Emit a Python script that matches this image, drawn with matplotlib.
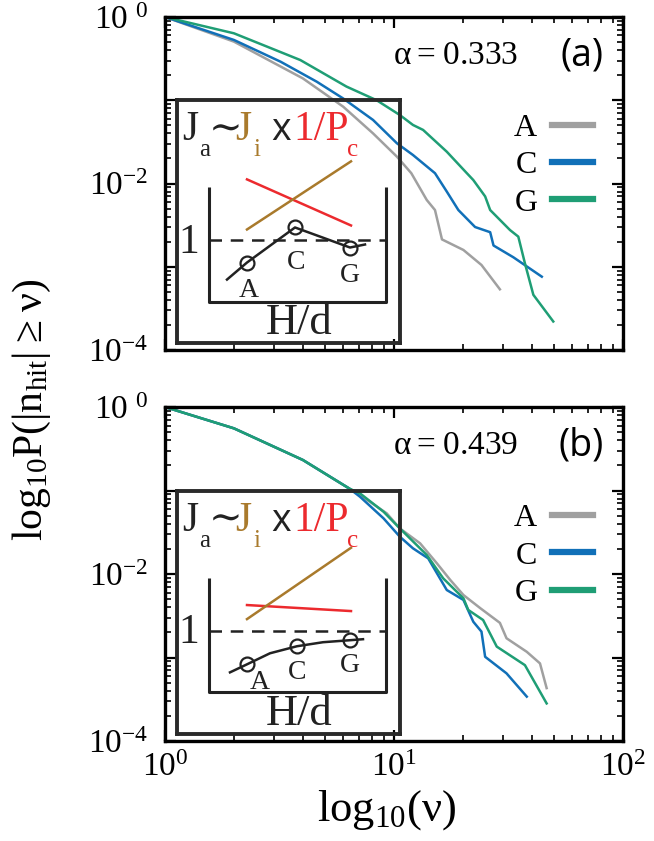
import numpy as np
import matplotlib
matplotlib.use('Agg')
import matplotlib.pyplot as plt
from matplotlib.ticker import FixedLocator, FixedFormatter, LogLocator, NullFormatter

plt.rcParams['font.family'] = ['Liberation Serif', 'DejaVu Serif']
plt.rcParams['mathtext.fontset'] = 'custom'
plt.rcParams['mathtext.rm'] = 'Liberation Serif'

# ---- data ----
# panel (a), alpha = 0.333
nu_a_A = [1, 2, 4, 6, 8.1, 10.3, 11.9, 13.9, 15.1, 16.2, 20.1, 24.1, 29.0]
P_a_A = [1, 0.506, 0.183, 0.0837, 0.040, 0.021, 0.0133, 0.00634, 0.0048, 0.00213, 0.00159, 0.00105, 0.000536]
nu_a_C = [1, 2, 3.2, 4.6, 6.0, 8.1, 10.3, 12.1, 15.1, 17.0, 19.1, 22.6, 26.3, 27.2, 33.2, 44.2]
P_a_C = [1, 0.53, 0.29, 0.167, 0.105, 0.058, 0.0304, 0.022, 0.0133, 0.008, 0.0048, 0.003, 0.0026, 0.0018, 0.0013, 0.00076]
nu_a_G = [1, 2, 3.9, 6.2, 8.4, 10.6, 12.1, 13.4, 17.0, 20.8, 22.2, 25.0, 26.3, 32.1, 34.9, 37.3, 40.6, 49.6]
P_a_G = [1, 0.637, 0.304, 0.146, 0.1, 0.0665, 0.0505, 0.044, 0.0241, 0.0133, 0.011, 0.007, 0.0048, 0.00276, 0.0023, 0.0011, 0.00046, 0.00022]

# panel (b), alpha = 0.439
nu_b_A = [1, 2, 4, 6.4, 7.1, 9.3, 10.6, 13.0, 15.4, 17.6, 20.1, 23.8, 29.0, 31.0, 38.0, 43.4, 46.4]
P_b_A = [1, 0.555, 0.232, 0.105, 0.0883, 0.0532, 0.0352, 0.0233, 0.0134, 0.0085, 0.0056, 0.0039, 0.0026, 0.0017, 0.00117, 0.00085, 0.00043]
nu_b_C = [1, 2, 4, 6.4, 7.1, 9.0, 10.6, 12.1, 14.1, 15.4, 17.0, 20.1, 22.2, 24.1, 25.0, 31.0, 38.0]
P_b_C = [1, 0.555, 0.232, 0.105, 0.0843, 0.0464, 0.028, 0.0203, 0.0154, 0.0102, 0.00643, 0.00489, 0.00268, 0.00204, 0.00102, 0.000646, 0.00034]
nu_b_G = [1, 2, 4, 6.4, 7.1, 9.0, 10.6, 13.9, 16.4, 20.1, 21.1, 24.5, 28.1, 37.3, 46.4]
P_b_G = [1, 0.555, 0.232, 0.105, 0.0925, 0.0557, 0.0352, 0.0169, 0.00887, 0.00512, 0.00371, 0.00281, 0.00135, 0.00081, 0.000282]

series_names = ['A', 'C', 'G']
series_colors = ['#a0a0a0', '#1170b8', '#1f9e75']
alphas = ['0.333', '0.439']
panel_tags = ['(a)', '(b)']

# inset schematic (pixel units inside the inset box, y downward)
ins_red_a = ([70, 174], [79, 125])
ins_brown_a = ([70, 174], [129, 61])
ins_black_a = ([50, 70, 118, 173, 188], [179, 162, 127, 147, 144])
ins_red_b = ([70, 174], [114, 120])
ins_brown_b = ([70, 174], [128, 57])
ins_black_b = ([53, 70, 93, 120, 146, 173, 186], [181, 173, 162, 155, 151, 149, 148])
ins_circle_idx_a = [1, 2, 3]
ins_circle_idx_b = [1, 3, 5]
ins_lab_pos_a = [(72, 190), (119, 162), (173, 175)]
ins_lab_pos_b = [(83, 191), (120, 181), (173, 174)]

W, H = 654, 841
fig = plt.figure(figsize=(W / 100, H / 100), dpi=100)
ax_a = fig.add_axes([165 / W, 1 - 350 / H, 458 / W, 333 / H])
ax_b = fig.add_axes([165 / W, 1 - 741 / H, 458 / W, 334 / H])

data = [
    [(nu_a_A, P_a_A), (nu_a_C, P_a_C), (nu_a_G, P_a_G)],
    [(nu_b_A, P_b_A), (nu_b_C, P_b_C), (nu_b_G, P_b_G)],
]
insets = [
    (ins_red_a, ins_brown_a, ins_black_a, ins_circle_idx_a, ins_lab_pos_a),
    (ins_red_b, ins_brown_b, ins_black_b, ins_circle_idx_b, ins_lab_pos_b),
]

brown = '#a97a2c'
red = '#ec2a2e'
dark = '#222222'
serif = ['Liberation Serif', 'DejaVu Serif']


def draw_inset(ax, red_l, brown_l, black_l, cidx, lpos):
    ins = ax.inset_axes([12 / 458, 0.022, 223 / 458, 0.728])
    ins.set_xlim(0, 223)
    ins.set_ylim(242, 0)
    ins.patch.set_alpha(0)
    ins.set_xticks([])
    ins.set_yticks([])
    for s in ins.spines.values():
        s.set_linewidth(2.8)
        s.set_color('#2a2a2a')
    # inner small frame
    ins.plot([32, 32, 209, 209], [87, 201, 201, 87], color=dark, lw=2.2, solid_capstyle='butt')
    ins.plot([32, 209], [140, 140], color=dark, lw=1.8, dashes=(5, 3.5))
    ins.text(12, 142, '1', fontsize=30, ha='center', va='center', color=dark, family=serif)
    ins.plot(*red_l, color=red, lw=1.8)
    ins.plot(*brown_l, color=brown, lw=1.8)
    bx, by = black_l
    ins.plot(bx, by, color=dark, lw=1.8)
    ins.plot([bx[i] for i in cidx], [by[i] for i in cidx], 'o', ms=10,
             mfc='none', mec=dark, mew=1.6)
    for name, (u, v) in zip(series_names, lpos):
        ins.text(u, v, name, fontsize=20, ha='center', va='center', color=dark, family=serif)
    ins.text(122, 222, 'H/d', fontsize=32, ha='center', va='center', color=dark, family=serif)
    # formula J_a ~ J_i x 1/P_c
    ins.text(5, 40, 'J', fontsize=30, color=dark, va='baseline', family=serif)
    ins.text(22, 56, 'a', fontsize=18, color=dark, va='baseline', family=serif)
    ins.text(32, 40, '\u223c', fontsize=29, color=dark, va='baseline', family=serif)
    ins.text(58, 40, 'J', fontsize=30, color=brown, va='baseline', family=serif)
    ins.text(76, 56, 'i', fontsize=18, color=brown, va='baseline', family=serif)
    ins.text(94, 40, 'x', fontsize=27, color=dark, va='baseline', family='Open Sans')
    ins.text(116, 40, '1/P', fontsize=30, color=red, va='baseline', family=serif)
    ins.text(170, 56, 'c', fontsize=18, color=red, va='baseline', family=serif)


for k, ax in enumerate([ax_a, ax_b]):
    for (nu, P), name, c in zip(data[k], series_names, series_colors):
        ax.plot(nu, P, color=c, lw=1.8, label=name)
    ax.set_xscale('log')
    ax.set_yscale('log')
    ax.set_xlim(1, 100)
    ax.set_ylim(1e-4, 1)
    for s in ax.spines.values():
        s.set_linewidth(2.4)
    ax.yaxis.set_major_locator(FixedLocator([1, 1e-1, 1e-2, 1e-3, 1e-4]))
    ax.yaxis.set_major_formatter(FixedFormatter([r'$\mathregular{10^{\ 0}}$', '',
                                                 r'$\mathregular{10^{-2}}$', '',
                                                 r'$\mathregular{10^{-4}}$']))
    ax.yaxis.set_minor_locator(LogLocator(base=10, subs=np.arange(2, 10)))
    ax.yaxis.set_minor_formatter(NullFormatter())
    ax.xaxis.set_major_locator(FixedLocator([1, 10, 100]))
    ax.xaxis.set_major_formatter(FixedFormatter([r'$\mathregular{10^{0}}$',
                                                 r'$\mathregular{10^{1}}$',
                                                 r'$\mathregular{10^{2}}$']))
    ax.xaxis.set_minor_locator(LogLocator(base=10, subs=np.arange(2, 10)))
    ax.xaxis.set_minor_formatter(NullFormatter())
    ax.tick_params(which='both', direction='in', top=True, right=True, labelsize=24)
    ax.tick_params(which='major', length=8, width=1.6)
    ax.tick_params(which='minor', length=4, width=1.2)
    ax.tick_params(axis='y', pad=12)
    ax.tick_params(axis='x', pad=8)

    ax.text(0.497, 0.885, r'$\mathregular{\alpha = ' + alphas[k] + '}$', transform=ax.transAxes,
            fontsize=24, ha='left', va='center')
    ax.text(0.958, 0.885, panel_tags[k], transform=ax.transAxes, fontsize=27,
            ha='right', va='center', family='Open Sans')
    leg = ax.legend(loc='upper right', bbox_to_anchor=(0.935, 0.71), frameon=False,
                    markerfirst=False, fontsize=23, handlelength=1.3, handletextpad=0.45,
                    labelspacing=0.25, borderpad=0, borderaxespad=0)
    for ln in leg.get_lines():
        ln.set_linewidth(4.5)
    draw_inset(ax, *insets[k])

ax_a.tick_params(axis='x', labelbottom=False)

fig.text(32 / W, 1 - 410 / H, r'$\mathregular{log_{10}P(|n_{hit}|\geq \nu)}$', rotation=90,
         fontsize=30, ha='center', va='center')
fig.text(387 / W, 1 - 810 / H, r'$\mathregular{log_{10}(\nu)}$', fontsize=32,
         ha='center', va='center')

fig.savefig('out.png', dpi=100)
